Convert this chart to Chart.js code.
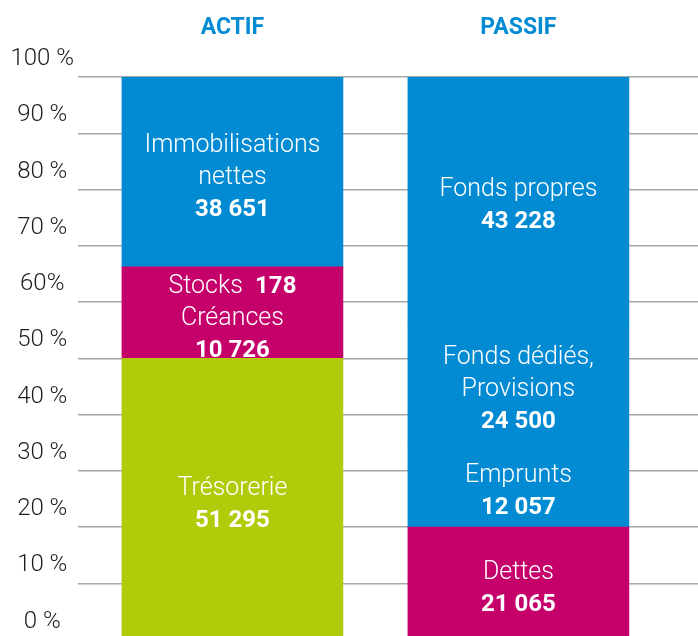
<!DOCTYPE html>
<html>
<head>
<meta charset="utf-8">
<script src="https://cdn.jsdelivr.net/npm/chart.js@4"></script>
<style>
  html, body { margin: 0; padding: 0; overflow: hidden; background: #fff; }
  #wrap { position: absolute; left: 0; top: 0; width: 698px; height: 658px; }
</style>
</head>
<body>
<div id="wrap"><canvas id="bilan" width="698" height="658"></canvas></div>
<script>
// Categories and tick labels
const categories = ["ACTIF", "PASSIF"];
const tickValues = [0, 10, 20, 30, 40, 50, 60, 70, 80, 90, 100];
const tickLabels = ["0 %", "10 %", "20 %", "30 %", "40 %", "50 %", "60%", "70 %", "80 %", "90 %", "100 %"];

// Segment heights as drawn (share of the bar, %), bottom to top
const actifShares = [50, 16.25, 33.75];        // Trésorerie, Stocks + Créances, Immobilisations
const passifShares = [20, 14.6, 21.7, 43.7];   // Dettes, Emprunts, Fonds dédiés, Fonds propres

// Segment texts ("**" starts the bold part of a line)
const actifLabels = [
  ["Trésorerie", "**51 295"],
  ["Stocks  **178", "Créances", "**10 726"],
  ["Immobilisations", "nettes", "**38 651"]
];
const passifLabels = [
  ["Dettes", "**21 065"],
  ["Emprunts", "**12 057"],
  ["Fonds dédiés,", "Provisions", "**24 500"],
  ["Fonds propres", "**43 228"]
];

const BLUE = "#028bd3";
const MAGENTA = "#c5006a";
const GREEN = "#b1cb0b";
const actifColors = [GREEN, MAGENTA, BLUE];
const passifColors = [MAGENTA, BLUE, BLUE, BLUE];

const FONT = "Roboto, 'Noto Sans', sans-serif";

// one dataset per stack level, x = category index
const levels = Math.max(actifShares.length, passifShares.length);
const datasets = [];
for (let k = 0; k < levels; k++) {
  datasets.push({
    data: [
      { x: 0, y: actifShares[k] ?? null },
      { x: 1, y: passifShares[k] ?? null }
    ],
    backgroundColor: [actifColors[k] || BLUE, passifColors[k] || BLUE],
    texts: [actifLabels[k] || null, passifLabels[k] || null],
    borderWidth: 0,
    barThickness: 221
  });
}

// writes the labels inside each segment
const segmentText = {
  id: "segmentText",
  afterDatasetsDraw(chart) {
    const ctx = chart.ctx;
    const lineH = 32;
    ctx.save();
    ctx.fillStyle = "#ffffff";
    ctx.textBaseline = "middle";
    ctx.textAlign = "left";
    chart.data.datasets.forEach((ds, d) => {
      const meta = chart.getDatasetMeta(d);
      meta.data.forEach((bar, i) => {
        const lines = ds.texts[i];
        if (!lines) return;
        const cy = (bar.y + bar.base) / 2 + 6;
        let y = cy - (lines.length - 1) * lineH / 2;
        lines.forEach(line => {
          const runs = line.split("**")
            .map((t, j) => ({ t, font: (j > 0 ? "bold 24px " : "300 25px ") + FONT }))
            .filter(r => r.t.length);
          let total = 0;
          runs.forEach(r => { ctx.font = r.font; r.w = ctx.measureText(r.t).width; total += r.w; });
          let x = bar.x - total / 2;
          runs.forEach(r => { ctx.font = r.font; ctx.fillText(r.t, x, y); x += r.w; });
          y += lineH;
        });
      });
    });
    ctx.restore();
  }
};

new Chart(document.getElementById("bilan"), {
  type: "bar",
  data: { datasets },
  plugins: [segmentText],
  options: {
    responsive: false,
    animation: false,
    layout: { padding: 0 },
    plugins: { legend: { display: false }, tooltip: { enabled: false } },
    scales: {
      x: {
        type: "linear",
        position: "top",
        stacked: true,
        offset: false,
        min: -0.54,
        max: 1.628,
        afterBuildTicks: axis => { axis.ticks = categories.map((c, i) => ({ value: i })); },
        afterFit: axis => { axis.height = 77; },
        grid: { display: false },
        border: { display: false },
        ticks: {
          callback: v => categories[v],
          color: BLUE,
          font: { family: FONT, size: 23, weight: "bold" },
          maxRotation: 0,
          padding: 27
        }
      },
      y: {
        stacked: true,
        min: 0,
        max: 100,
        afterBuildTicks: axis => { axis.ticks = tickValues.map(v => ({ value: v })); },
        afterFit: axis => { axis.width = 78; },
        grid: { color: "#a8a8a8", lineWidth: 1.5, drawTicks: false },
        border: { display: false },
        ticks: {
          callback: (v, i) => tickLabels[i],
          color: "#1e1e1e",
          font: { family: FONT, size: 24, weight: "300" },
          crossAlign: "center",
          padding: 4,
          labelOffset: -18
        }
      }
    }
  }
});
</script>
</body>
</html>
